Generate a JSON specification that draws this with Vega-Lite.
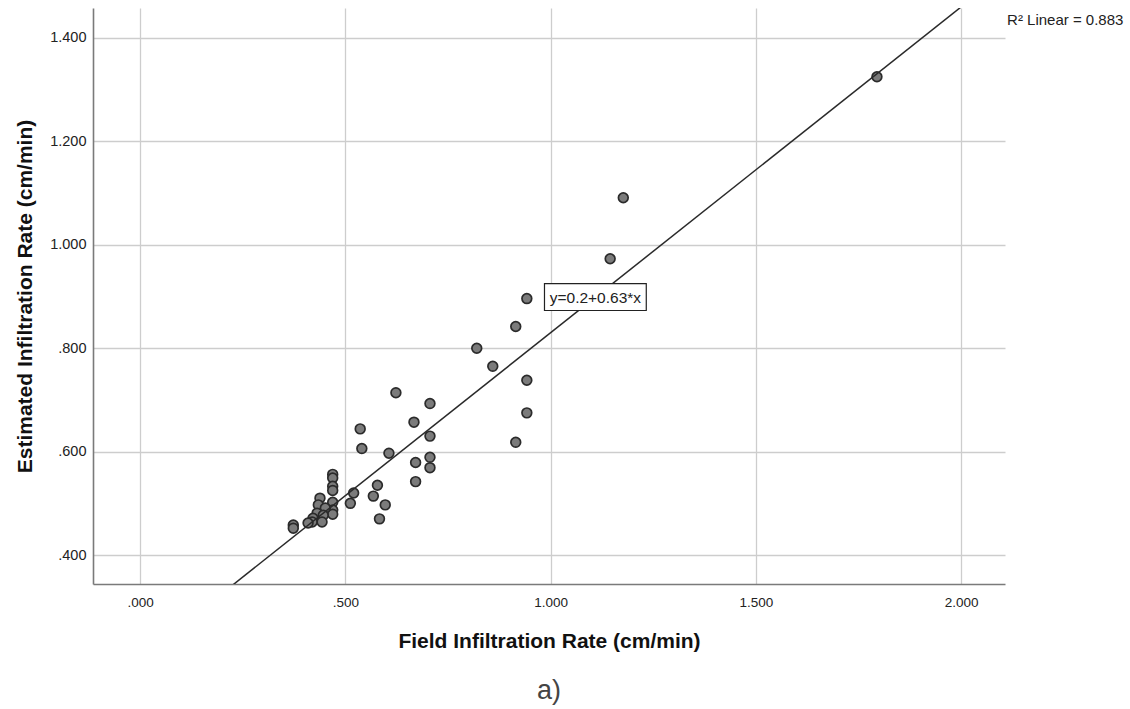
{
  "$schema": "https://vega.github.io/schema/vega-lite/v6.json",
  "width": 912,
  "height": 576,
  "autosize": {"type": "none"},
  "padding": {"left": 93, "top": 8, "right": 125, "bottom": 125},
  "background": "white",
  "config": {
    "view": {"stroke": null},
    "font": "Liberation Sans",
    "axis": {
      "ticks": false,
      "domainColor": "#7a7a7a",
      "domainWidth": 1.6,
      "gridColor": "#cdcdcd",
      "gridWidth": 1.3,
      "labelFontSize": 13.5,
      "labelColor": "#222222",
      "titleFontSize": 21,
      "titleFontWeight": "bold",
      "titleColor": "#111111"
    }
  },
  "title": {
    "text": "a)",
    "orient": "bottom",
    "anchor": "middle",
    "fontSize": 27,
    "fontWeight": "normal",
    "color": "#444444",
    "offset": 26
  },
  "datasets": {
    "observations": [
      {"x": 1.795, "y": 1.325},
      {"x": 1.177, "y": 1.091},
      {"x": 1.145, "y": 0.973},
      {"x": 0.942, "y": 0.896},
      {"x": 0.915, "y": 0.842},
      {"x": 0.820, "y": 0.800},
      {"x": 0.859, "y": 0.765},
      {"x": 0.942, "y": 0.738},
      {"x": 0.942, "y": 0.675},
      {"x": 0.915, "y": 0.618},
      {"x": 0.623, "y": 0.714},
      {"x": 0.706, "y": 0.693},
      {"x": 0.667, "y": 0.657},
      {"x": 0.706, "y": 0.630},
      {"x": 0.536, "y": 0.644},
      {"x": 0.540, "y": 0.606},
      {"x": 0.606, "y": 0.597},
      {"x": 0.706, "y": 0.589},
      {"x": 0.706, "y": 0.569},
      {"x": 0.671, "y": 0.579},
      {"x": 0.671, "y": 0.542},
      {"x": 0.578, "y": 0.535},
      {"x": 0.568, "y": 0.514},
      {"x": 0.597, "y": 0.497},
      {"x": 0.583, "y": 0.470},
      {"x": 0.520, "y": 0.520},
      {"x": 0.512, "y": 0.500},
      {"x": 0.469, "y": 0.556},
      {"x": 0.469, "y": 0.549},
      {"x": 0.469, "y": 0.533},
      {"x": 0.469, "y": 0.525},
      {"x": 0.469, "y": 0.502},
      {"x": 0.469, "y": 0.487},
      {"x": 0.469, "y": 0.479},
      {"x": 0.438, "y": 0.510},
      {"x": 0.434, "y": 0.497},
      {"x": 0.451, "y": 0.491},
      {"x": 0.431, "y": 0.481},
      {"x": 0.446, "y": 0.477},
      {"x": 0.421, "y": 0.471},
      {"x": 0.443, "y": 0.464},
      {"x": 0.419, "y": 0.464},
      {"x": 0.409, "y": 0.462},
      {"x": 0.373, "y": 0.458},
      {"x": 0.373, "y": 0.452}
    ],
    "fit": [
      {"x": -0.115, "y": 0.12755},
      {"x": 2.107, "y": 1.52741}
    ],
    "equation_box": [
      {"x": 0.985, "y": 0.925, "x2": 1.233, "y2": 0.873}
    ],
    "equation": [
      {"x": 1.109, "y": 0.898, "label": "y=0.2+0.63*x"}
    ],
    "fit_stat": [
      {"x": 2.112, "y": 1.434, "label": "R² Linear = 0.883"}
    ]
  },
  "encoding": {
    "x": {
      "field": "x",
      "type": "quantitative",
      "scale": {"domain": [-0.115, 2.107], "nice": false, "zero": false},
      "axis": {
        "title": "Field Infiltration Rate (cm/min)",
        "values": [0, 0.5, 1, 1.5, 2],
        "labelExpr": "datum.value < 1 ? slice(format(datum.value, '.3f'), 1) : format(datum.value, '.3f')",
        "labelPadding": 11,
        "titlePadding": 22
      }
    },
    "y": {
      "field": "y",
      "type": "quantitative",
      "scale": {"domain": [0.344, 1.458], "nice": false, "zero": false},
      "axis": {
        "title": "Estimated Infiltration Rate (cm/min)",
        "values": [0.4, 0.6, 0.8, 1.0, 1.2, 1.4],
        "labelExpr": "datum.value < 1 ? slice(format(datum.value, '.3f'), 1) : format(datum.value, '.3f')",
        "labelPadding": 7,
        "labelFontSize": 14.5,
        "titlePadding": 14
      }
    }
  },
  "layer": [
    {
      "data": {"name": "observations"},
      "mark": {
        "type": "circle",
        "size": 95,
        "fill": "#7b7b7b",
        "fillOpacity": 1,
        "opacity": 1,
        "stroke": "#2b2b2b",
        "strokeWidth": 1.7
      }
    },
    {
      "data": {"name": "fit"},
      "mark": {"type": "line", "color": "#2a2a2a", "strokeWidth": 1.5, "clip": true}
    },
    {
      "data": {"name": "equation_box"},
      "mark": {"type": "rect", "fill": "white", "stroke": "#222222", "strokeWidth": 1.2},
      "encoding": {
        "x2": {"field": "x2"},
        "y2": {"field": "y2"}
      }
    },
    {
      "data": {"name": "equation"},
      "mark": {"type": "text", "fontSize": 15.5, "color": "#222222", "align": "center", "baseline": "middle"},
      "encoding": {"text": {"field": "label"}}
    },
    {
      "data": {"name": "fit_stat"},
      "mark": {"type": "text", "fontSize": 15, "color": "#222222", "align": "left", "baseline": "middle"},
      "encoding": {"text": {"field": "label"}}
    }
  ]
}
